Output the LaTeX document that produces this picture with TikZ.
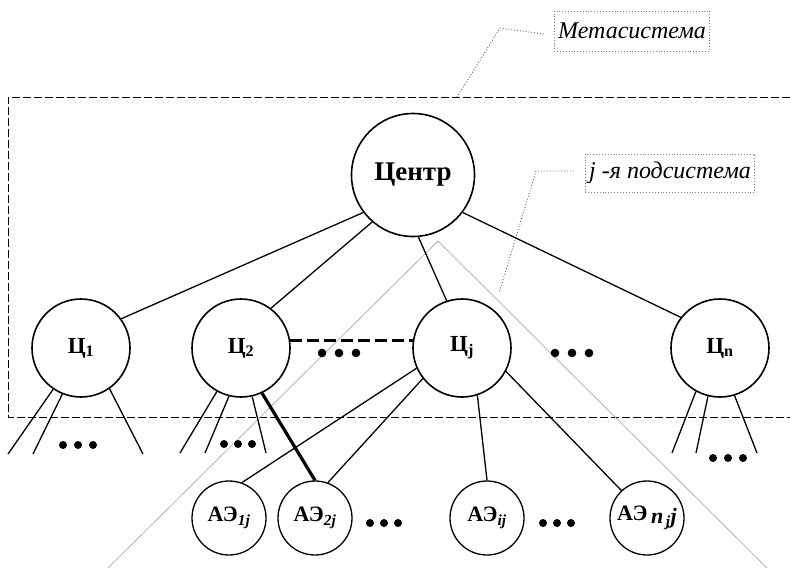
\documentclass[tikz,border=0pt]{standalone}
\usepackage{fontspec}
\setmainfont{Liberation Serif}
\usetikzlibrary{positioning}

\newcommand\threedots[4]{\foreach \k in {0,1,2} \fill (#1+\k*#3,#2) circle (#4);}

\tikzset{
  centr/.style={circle,draw,line width=1.6pt,minimum size=123pt,inner sep=0pt,font=\fontsize{27}{30}\selectfont\bfseries},
  sub/.style={circle,draw,line width=1.6pt,minimum size=98pt,inner sep=0pt,font=\fontsize{23}{26}\selectfont\bfseries},
  elem/.style={circle,draw,line width=1.3pt,minimum size=74pt,inner sep=0pt,font=\fontsize{22}{24}\selectfont\bfseries},
  note/.style={draw=gray,dotted,line width=0.9pt,inner xsep=4pt,minimum height=40pt,font=\fontsize{24}{28}\selectfont\itshape},
  callout/.style={gray!70!black,dotted,line width=0.9pt},
  frame/.style={dash pattern=on 8pt off 3pt,line width=1pt},
  link/.style={line width=1.3pt},
  tri/.style={gray!60,line width=0.8pt}
}

\begin{document}
\begin{tikzpicture}[x=1pt,y=-1pt]
  \useasboundingbox (0,0) rectangle (790,570);
  \draw[frame] (790,97) -- (8,97) -- (8,417) -- (790,417);
  \coordinate (trl) at (108,568);
  \coordinate (trt) at (438,241);
  \coordinate (trr) at (767,568);
  \draw[tri] (trl) -- (trt) -- (trr);

  \node[centr] (centr) at (413,175) {Центр};
  \node[sub] (c1) at (81,348) {Ц\textsubscript{1}};
  \node[sub] (c2) at (241,348) {Ц\textsubscript{2}};
  \node[sub] (cj) at (462,348) {Ц\textsubscript{j}};
  \node[sub] (cn) at (720,348) {Ц\textsubscript{n}};
  \node[elem] (ae1) at (229,518) {АЭ\textsubscript{\itshape 1j}};
  \node[elem] (ae2) at (315,518) {АЭ\textsubscript{\itshape 2j}};
  \node[elem] (aei) at (487,518) {АЭ\textsubscript{\itshape ij}};
  \node[elem] (aen) at (647,518) {АЭ\,\raisebox{-0.3ex}{\itshape n\textsubscript{\,j}j}};

  \node[note] (meta) at (632,31) {Метасистема};
  \node[note,minimum height=38pt] (podsys) at (670,173) {\textit{j} -я подсистема};
  \coordinate (metak) at (500,28);
  \coordinate (metaend) at (457,97);
  \coordinate (podk) at (536,171);
  \coordinate (podend) at (499,293);
  \draw[callout] ([xshift=-10pt,yshift=-3pt]meta.west) -- (metak) -- (metaend);
  \draw[callout] ([xshift=-11pt,yshift=2pt]podsys.west) -- (podk) -- (podend);

  \draw[link] (centr.217) -- (c1.36);
  \draw[link] (centr.229) -- (c2.53);
  \draw[link] (centr.275) -- (cj.108);
  \draw[link] (centr.323) -- (cn.142);
  \draw[dash pattern=on 12pt off 5pt,line width=3.2pt] (c2.9) -- (cj.171);

  \coordinate (c1a) at (8,454);
  \coordinate (c1b) at (33,454);
  \coordinate (c1c) at (143,454);
  \draw[link] (c1.236) -- (c1a);
  \draw[link] (c1.248) -- (c1b);
  \draw[link] (c1.305) -- (c1c);
  \coordinate (c2a) at (180,453);
  \coordinate (c2b) at (205,453);
  \coordinate (c2c) at (266,453);
  \draw[link] (c2.241) -- (c2a);
  \draw[link] (c2.256) -- (c2b);
  \draw[link] (c2.283) -- (c2c);
  \coordinate (cna) at (672,453);
  \coordinate (cnb) at (696,453);
  \coordinate (cnc) at (757,453);
  \draw[link] (cn.241) -- (cna);
  \draw[link] (cn.256) -- (cnb);
  \draw[link] (cn.287) -- (cnc);

  \draw[line width=3.2pt] (c2.295) -- (ae2.90);
  \draw[link] (cj.204) -- (ae1.70);
  \draw[link] (cj.218) -- (ae2.70);
  \draw[link] (cj.288) -- (aei.90);
  \draw[link] (cj.332) -- (aen.133);

  \threedots{322}{353}{17}{4.3pt}
  \threedots{555}{353}{17}{4.3pt}
  \threedots{63}{445}{15}{4pt}
  \threedots{224}{444}{14}{4pt}
  \threedots{713}{458}{15}{4pt}
  \threedots{370}{523}{14}{4pt}
  \threedots{543}{523}{14}{4pt}
\end{tikzpicture}
\end{document}
